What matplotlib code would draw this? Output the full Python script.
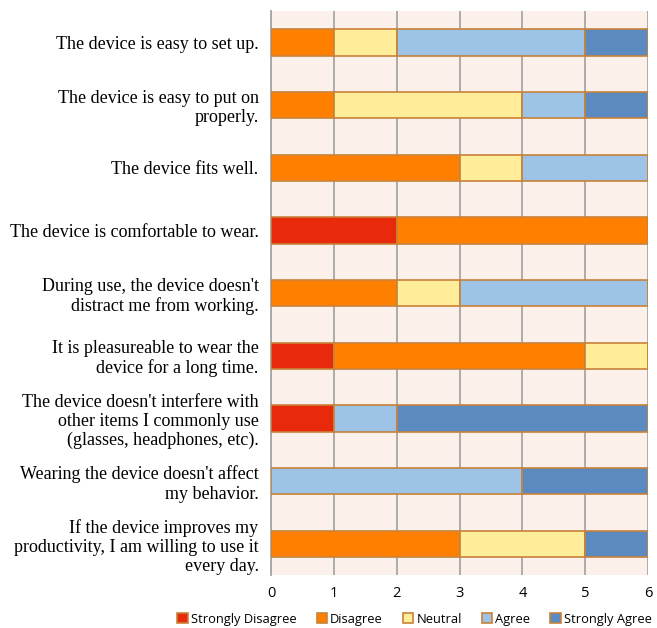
import numpy as np
import matplotlib.pyplot as plt

questions = [
    "The device is easy to set up.",
    "The device is easy to put on\nproperly.",
    "The device fits well.",
    "The device is comfortable to wear.",
    "During use, the device doesn't\ndistract me from working.",
    "It is pleasureable to wear the\ndevice for a long time.",
    "The device doesn't interfere with\nother items I commonly use\n(glasses, headphones, etc).",
    "Wearing the device doesn't affect\nmy behavior.",
    "If the device improves my\nproductivity, I am willing to use it\nevery day.",
]
levels = ["Strongly Disagree", "Disagree", "Neutral", "Agree", "Strongly Agree"]
strongly_disagree = [0, 0, 0, 2, 0, 1, 1, 0, 0]
disagree = [1, 1, 3, 4, 2, 4, 0, 0, 3]
neutral = [1, 3, 1, 0, 1, 1, 0, 0, 2]
agree = [3, 1, 2, 0, 3, 0, 1, 4, 0]
strongly_agree = [1, 1, 0, 0, 0, 0, 4, 2, 1]
colors = ["#E8290B", "#FF8000", "#FFED99", "#9DC3E6", "#5A8AC0"]

counts = [strongly_disagree, disagree, neutral, agree, strongly_agree]

fig = plt.figure(figsize=(6.57, 6.28), dpi=100)
ax = fig.add_axes([0.4125, 0.0844, 0.5738, 0.898])
ax.set_facecolor("#FCF0EB")

y = np.arange(len(questions))
left = np.zeros(len(questions))
for name, vals, c in zip(levels, counts, colors):
    vals = np.array(vals, dtype=float)
    ax.barh(y, vals, left=left, height=0.42, color=c, edgecolor="#C8823A",
            linewidth=1.2, label=name, zorder=3)
    left += vals

ax.set_xlim(0, 6)
ax.set_ylim(len(questions) - 0.5, -0.5)
ax.set_xticks(range(7))
ax.set_yticks(y)
ax.set_yticklabels(questions, fontfamily="Liberation Serif", fontsize=13,
                   linespacing=1.16)
for t in ax.get_xticklabels():
    t.set_fontfamily("Open Sans")
    t.set_fontsize(10.5)
ax.tick_params(axis="both", length=0)
ax.tick_params(axis="x", pad=8)
ax.tick_params(axis="y", pad=9)
ax.grid(axis="x", color="#A6A6A6", linewidth=1.3, zorder=0)
for s in ["top", "right", "bottom"]:
    ax.spines[s].set_visible(False)
ax.spines["left"].set_color("#A6A6A6")
ax.spines["left"].set_linewidth(1.3)

fig.legend(loc="center left", bbox_to_anchor=(0.27, 0.014), ncol=5, frameon=False,
           prop={"family": "Open Sans", "size": 9.3}, handlelength=0.8,
           handleheight=0.8, handletextpad=0.25, columnspacing=1.55,
           borderaxespad=0, borderpad=0)

fig.savefig("out.png", dpi=100)
